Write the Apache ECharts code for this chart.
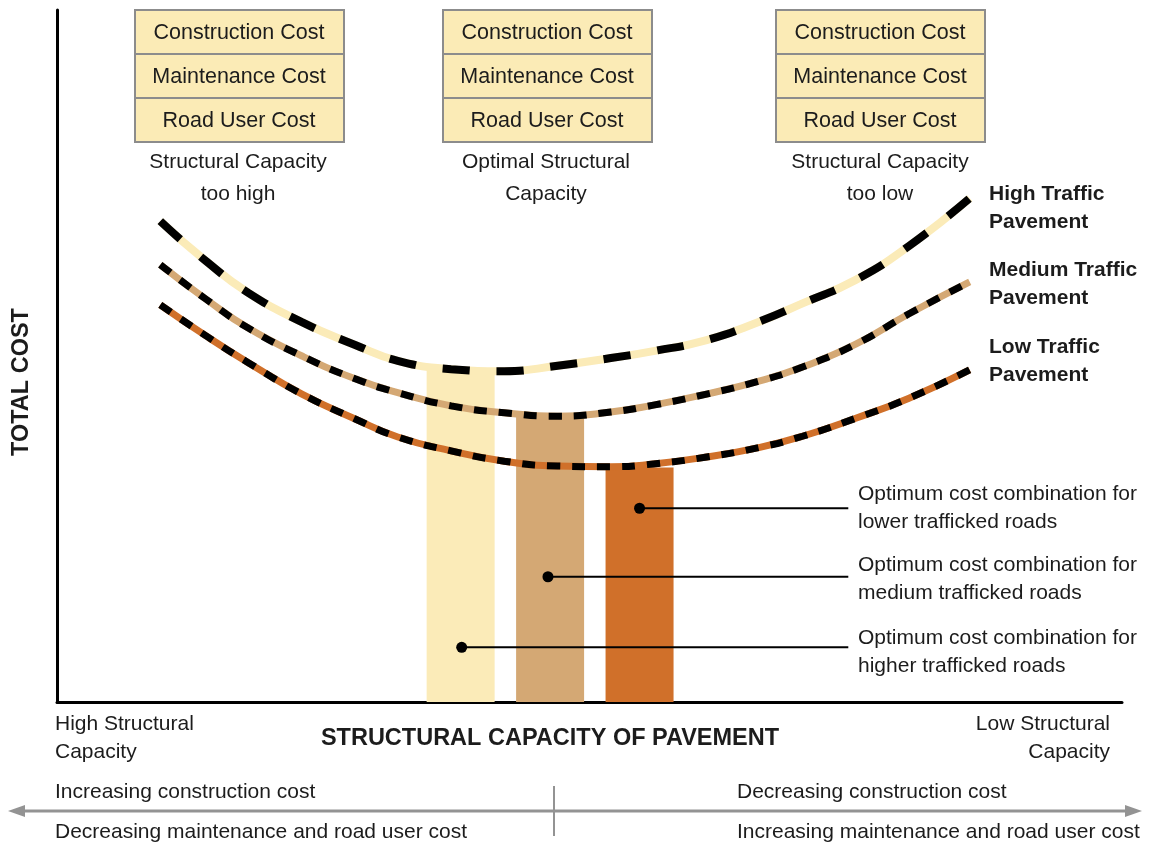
<!DOCTYPE html>
<html>
<head>
<meta charset="utf-8">
<script src="https://cdn.jsdelivr.net/npm/echarts@6/dist/echarts.min.js"></script>
<style>
  html, body { margin: 0; padding: 0; background: #fff; }
  #chart { width: 1152px; height: 845px; }
</style>
</head>
<body>
<div id="chart"></div>
<script>
// structural capacity (0 = high capacity, 100 = low capacity) and total cost, arbitrary units
const capacity = [9.7, 14, 18, 23, 28, 32, 37, 42, 47, 52, 56, 61, 66, 70, 75, 80, 85.7];
const highTraffic = [69.5, 63.7, 59.1, 54.9, 51.6, 49.3, 48.1, 47.8, 48.6, 49.7, 50.7, 52.3, 55.0, 57.6, 61.0, 65.9, 72.8];
const mediumTraffic = [63.2, 58.2, 54.0, 50.0, 46.7, 44.7, 42.8, 41.8, 41.3, 41.9, 42.9, 44.5, 46.4, 48.4, 51.7, 56.1, 60.7];
const lowTraffic = [57.4, 52.9, 49.0, 44.5, 40.9, 38.3, 36.3, 34.8, 34.1, 34.0, 34.4, 35.4, 36.8, 38.4, 41.0, 43.9, 48.0];

// optimum bands (high, medium, low traffic)
const optimumX = [37.9, 46.3, 54.7];
const optimumCost = [48.0, 41.4, 33.9];

// annotation dots (low, medium, high)
const noteDotX = [54.7, 46.1, 38.0];
const noteY = [28.0, 18.1, 7.9];
const noteEndX = 74.3;
const noteText = [
  ['Optimum cost combination for', 'lower trafficked roads'],
  ['Optimum cost combination for', 'medium trafficked roads'],
  ['Optimum cost combination for', 'higher trafficked roads']
];

const costRows = ['Construction Cost', 'Maintenance Cost', 'Road User Cost'];
const boxCaptions = [
  ['Structural Capacity', 'too high'],
  ['Optimal Structural', 'Capacity'],
  ['Structural Capacity', 'too low']
];
const pavementLabels = [
  ['High Traffic', 'Pavement'],
  ['Medium Traffic', 'Pavement'],
  ['Low Traffic', 'Pavement']
];

const cream = '#FBEBB8', tan = '#D4A874', orange = '#D0702A';
const FONT = 'Liberation Sans, Arial, sans-serif';
const TXT = '#1c1c1c';

const chart = echarts.init(document.getElementById('chart'));

const pairs = (ys) => capacity.map((x, i) => [x, ys[i]]);

// two-tone dashed curve = solid coloured line + black dashes on top
function curve(name, ys, color, width, dash) {
  return [
    {
      name: name, type: 'line', data: pairs(ys), smooth: 0.5, showSymbol: false, z: 3,
      lineStyle: { color: color, width: width, cap: 'butt' }
    },
    {
      name: name + ' dash', type: 'line', data: pairs(ys), smooth: 0.5, showSymbol: false, z: 4,
      lineStyle: { color: '#000', width: width, type: dash, cap: 'butt' }
    }
  ];
}

const leaders = noteDotX.map((x, i) => ({
  type: 'line', z: 6, silent: true,
  data: [
    { value: [x, noteY[i]], symbol: 'circle', symbolSize: 11 },
    { value: [noteEndX, noteY[i]], symbol: 'none' }
  ],
  itemStyle: { color: '#000' },
  lineStyle: { color: '#000', width: 2 }
}));

function txt(x, y, t, size, align, bold) {
  return {
    type: 'text', x: x, y: y,
    style: {
      text: t, font: (bold ? 'bold ' : '') + size + 'px ' + FONT, fill: TXT,
      textAlign: align, textVerticalAlign: 'middle'
    }
  };
}

// graphic bits: cost boxes, captions, labels, bottom arrow
const graphic = [];
const boxLeft = [135, 443, 776];
const boxCenter = [238, 546, 880];
boxLeft.forEach((bx, b) => {
  costRows.forEach((row, r) => {
    graphic.push({
      type: 'rect', shape: { x: bx, y: 10 + r * 44, width: 209, height: 44 },
      style: { fill: '#FBEBB6', stroke: '#8c8c8c', lineWidth: 2 }
    });
    graphic.push(txt(bx + 104, 33 + r * 44, row, 21.5, 'center'));
  });
  boxCaptions[b].forEach((t, k) => {
    graphic.push(txt(boxCenter[b], 162 + k * 32, t, 21, 'center'));
  });
});

const pavY = [194, 270, 347];
pavementLabels.forEach((pl, i) => {
  pl.forEach((t, k) => graphic.push(txt(989, pavY[i] + k * 28, t, 21, 'left', true)));
});

const noteTop = [494, 565, 638];
noteText.forEach((nt, i) => {
  nt.forEach((t, k) => graphic.push(txt(858, noteTop[i] + k * 28, t, 21, 'left')));
});

const yTitle = txt(22, 382, 'TOTAL COST', 23.5, 'center', true);
yTitle.rotation = Math.PI / 2;

graphic.push(
  yTitle,
  txt(550, 739, 'STRUCTURAL CAPACITY OF PAVEMENT', 23.5, 'center', true),
  txt(55, 724, 'High Structural', 21, 'left'),
  txt(55, 752, 'Capacity', 21, 'left'),
  txt(1110, 724, 'Low Structural', 21, 'right'),
  txt(1110, 752, 'Capacity', 21, 'right'),
  txt(55, 792, 'Increasing construction cost', 21, 'left'),
  txt(55, 832, 'Decreasing maintenance and road user cost', 21, 'left'),
  txt(737, 792, 'Decreasing construction cost', 21, 'left'),
  txt(737, 832, 'Increasing maintenance and road user cost', 21, 'left'),
  { type: 'line', shape: { x1: 18, y1: 811, x2: 1130, y2: 811 }, style: { stroke: '#939393', lineWidth: 3 } },
  { type: 'polygon', shape: { points: [[8, 811], [25, 805], [25, 817]] }, style: { fill: '#939393' } },
  { type: 'polygon', shape: { points: [[1142, 811], [1125, 805], [1125, 817]] }, style: { fill: '#939393' } },
  { type: 'line', shape: { x1: 554, y1: 786, x2: 554, y2: 836 }, style: { stroke: '#939393', lineWidth: 2 } }
);

const option = {
  animation: false,
  backgroundColor: '#fff',
  grid: { left: 57, right: 30, top: 10, bottom: 143, containLabel: false },
  xAxis: {
    type: 'value', min: 0, max: 100,
    axisLine: { show: true, onZero: false, lineStyle: { color: '#000', width: 3 } },
    axisTick: { show: false }, axisLabel: { show: false }, splitLine: { show: false }
  },
  yAxis: {
    type: 'value', min: 0, max: 100,
    axisLine: { show: true, onZero: false, lineStyle: { color: '#000', width: 3 } },
    axisTick: { show: false }, axisLabel: { show: false }, splitLine: { show: false }
  },
  graphic: graphic,
  series: [
    {
      name: 'Optimum', type: 'bar', barWidth: 68, z: 1, silent: true,
      data: optimumX.map((x, i) => ({
        value: [x, optimumCost[i]],
        itemStyle: { color: [cream, tan, orange][i] }
      }))
    },
    ...curve('High Traffic Pavement', highTraffic, cream, 8, [27, 27]),
    ...curve('Medium Traffic Pavement', mediumTraffic, tan, 7, [13, 12]),
    ...curve('Low Traffic Pavement', lowTraffic, orange, 7, [13, 12]),
    ...leaders
  ]
};

chart.setOption(option);
</script>
</body>
</html>
